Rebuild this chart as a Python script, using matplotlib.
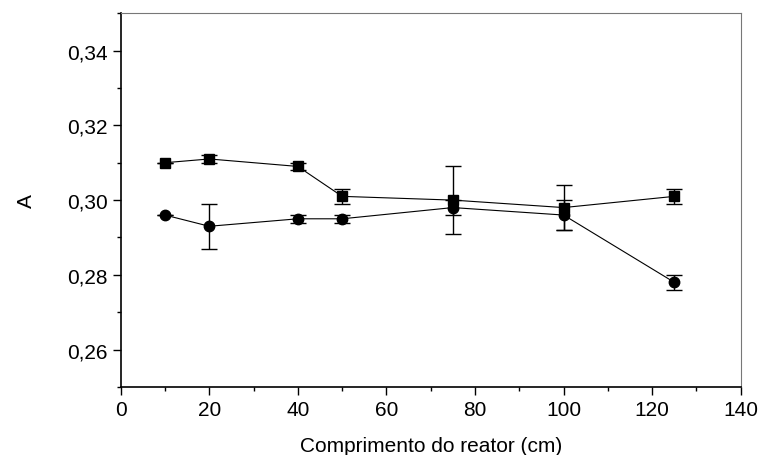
import matplotlib.pyplot as plt
from matplotlib.ticker import FuncFormatter, MultipleLocator

plt.rcParams['font.family'] = ['Liberation Sans', 'DejaVu Sans']

# comprimento do reator (cm)
x = [10, 20, 40, 50, 75, 100, 125]

# serie quadrados
a_sq = [0.310, 0.311, 0.309, 0.301, 0.300, 0.298, 0.301]
e_sq = [0.0, 0.001, 0.001, 0.002, 0.009, 0.006, 0.002]

# serie circulos
a_ci = [0.296, 0.293, 0.295, 0.295, 0.298, 0.296, 0.278]
e_ci = [0.0, 0.006, 0.001, 0.001, 0.002, 0.004, 0.002]

fig, ax = plt.subplots(figsize=(7.59, 4.56), dpi=100)
fig.subplots_adjust(left=0.159, right=0.976, top=0.969, bottom=0.149)

kw = dict(color='black', lw=0.8, capsize=6, elinewidth=1.0, capthick=1.0, markersize=7.5)
ax.errorbar(x, a_sq, yerr=e_sq, marker='s', **kw)
ax.errorbar(x, a_ci, yerr=e_ci, marker='o', **kw)

ax.set_xlim(0, 140)
ax.set_ylim(0.25, 0.35)
ax.xaxis.set_major_locator(MultipleLocator(20))
ax.xaxis.set_minor_locator(MultipleLocator(10))
ax.yaxis.set_major_locator(MultipleLocator(0.02))
ax.yaxis.set_minor_locator(MultipleLocator(0.01))
ax.yaxis.set_major_formatter(FuncFormatter(lambda v, p: f'{v:.2f}'.replace('.', ',')))

ax.tick_params(which='both', direction='out', top=False, right=False, labelsize=15, width=1.0)
ax.tick_params(which='major', length=6)
ax.tick_params(which='minor', length=3)
for s in ['top', 'right']:
    ax.spines[s].set_color('#777777')
for s in ['left', 'bottom']:
    ax.spines[s].set_linewidth(1.2)

ax.set_xlabel('Comprimento do reator (cm)', fontsize=15, labelpad=12)
ax.set_ylabel('A', fontsize=15, labelpad=22)

fig.savefig('out.png', dpi=100)
